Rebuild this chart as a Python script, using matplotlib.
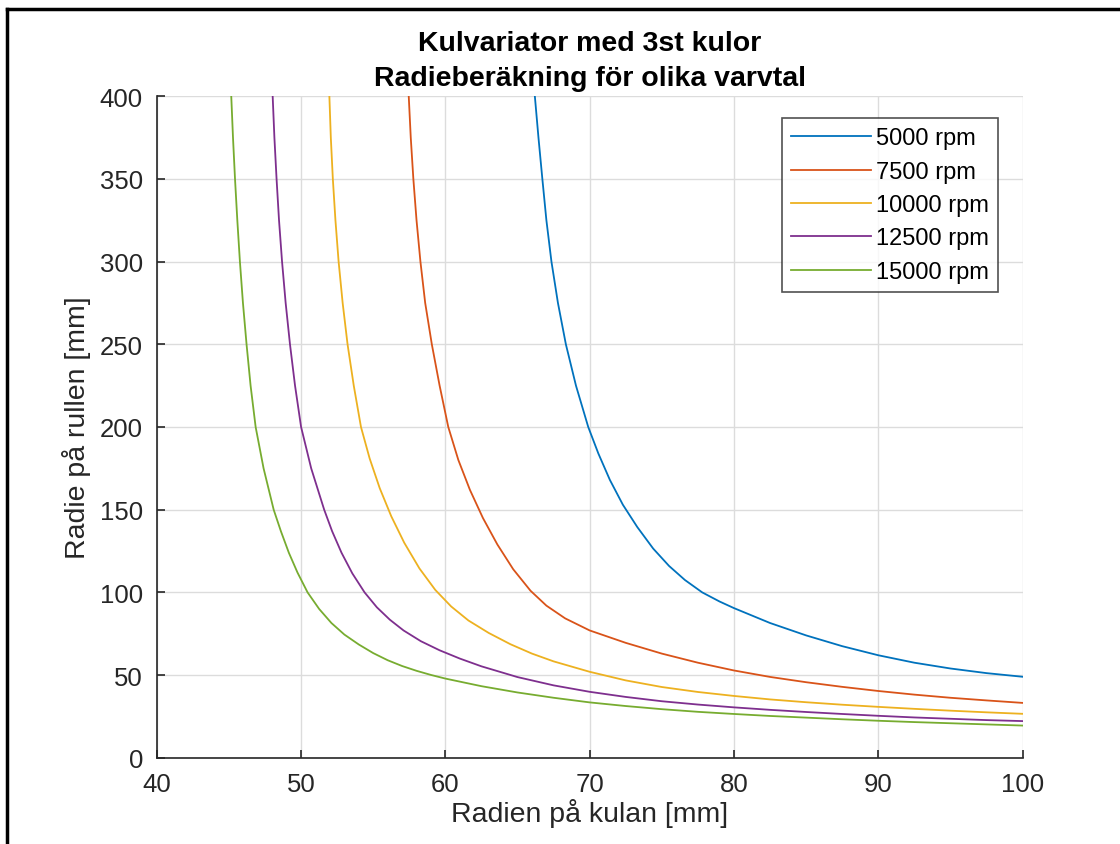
import matplotlib.pyplot as plt
from matplotlib.lines import Line2D

# values (x = ball radius, y = roller radius)
x_5000 = [66.2, 66.45, 66.72, 67.0, 67.35, 67.8, 68.35, 69.05, 69.9, 70.6, 71.4, 72.3, 73.3, 74.4,
          75.5, 76.6, 77.8, 79.0, 80, 82.5, 85, 87.5, 90, 92.5, 95, 97.5, 100]
y_5000 = [400, 375, 350, 325, 300, 275, 250, 225, 200, 184, 168, 153, 139.5, 126.5,
          116, 107.5, 100, 94.5, 90.5, 81.5, 74, 67.5, 62, 57.5, 54, 51.2, 49]

x_7500 = [57.46, 57.6, 57.78, 58.0, 58.27, 58.6, 59.06, 59.6, 60.2, 60.9, 61.7, 62.6, 63.6, 64.7,
          65.9, 67.0, 68.3, 70, 72.5, 75, 77.5, 80, 82.5, 85, 87.5, 90, 92.5, 95, 97.5, 100]
y_7500 = [400, 375, 350, 325, 300, 275, 250, 225, 200, 180, 162, 145, 129, 114,
          101, 92, 84.3, 77, 69.5, 63, 57.5, 52.8, 48.9, 45.7, 42.9, 40.4, 38.2, 36.3, 34.7, 33.2]

x_10000 = [51.96, 52.06, 52.2, 52.38, 52.6, 52.88, 53.22, 53.65, 54.15, 54.75, 55.45, 56.25, 57.15,
           58.2, 59.3, 60.4, 61.6, 63.0, 64.5, 66.0, 67.5, 70, 72.5, 75, 77.5, 80, 82.5, 85, 87.5,
           90, 92.5, 95, 97.5, 100]
y_10000 = [400, 375, 350, 325, 300, 275, 250, 225, 200, 181, 163, 146, 130,
           114.5, 101.5, 91.5, 83, 75.5, 68.7, 63, 58.3, 52, 46.8, 42.8, 39.8, 37.4, 35.3, 33.6, 32.1,
           30.8, 29.6, 28.5, 27.5, 26.6]

x_12500 = [48.03, 48.15, 48.3, 48.47, 48.68, 48.93, 49.23, 49.58, 50.0, 50.7, 51.6, 52.15, 52.8,
           53.55, 54.4, 55.25, 56.15, 57.1, 58.3, 59.6, 61, 62.5, 65, 67.5, 70, 72.5, 75, 77.5, 80,
           82.5, 85, 87.5, 90, 92.5, 95, 97.5, 100]
y_12500 = [400, 375, 350, 325, 300, 275, 250, 225, 200, 175, 150, 137, 124,
           111.5, 100, 91, 83.5, 77, 70.5, 65, 60, 55.3, 48.8, 43.8, 39.9, 36.8, 34.2, 32.2, 30.5,
           29, 27.7, 26.5, 25.4, 24.4, 23.6, 22.8, 22.2]

x_15000 = [45.16, 45.28, 45.42, 45.58, 45.76, 45.97, 46.22, 46.5, 46.85, 47.4, 48.1, 48.6, 49.15,
           49.75, 50.45, 51.25, 52.1, 53, 54, 55, 56, 57, 58, 59, 60, 62.5, 65, 67.5, 70, 72.5, 75,
           77.5, 80, 82.5, 85, 87.5, 90, 92.5, 95, 97.5, 100]
y_15000 = [400, 375, 350, 325, 300, 275, 250, 225, 200, 175, 150, 137, 124,
           112, 100, 90, 81.5, 74.5, 68.5, 63.3, 59, 55.5, 52.6, 50.1, 47.9, 43.3, 39.5, 36.3, 33.5,
           31.3, 29.4, 27.8, 26.5, 25.3, 24.3, 23.3, 22.4, 21.6, 20.9, 20.2, 19.5]

labels = ['5000 rpm', '7500 rpm', '10000 rpm', '12500 rpm', '15000 rpm']
colors = ['#0072BD', '#D95319', '#EDB120', '#7E2F8E', '#77AC30']
series = [(x_5000, y_5000), (x_7500, y_7500), (x_10000, y_10000),
          (x_12500, y_12500), (x_15000, y_15000)]

plt.rcParams['font.family'] = ['Liberation Sans', 'DejaVu Sans']

fig = plt.figure(figsize=(11.2, 8.45), dpi=100)
ax = fig.add_axes([0.140, 0.102, 0.773, 0.783])

for (xs, ys), lab, col in zip(series, labels, colors):
    ax.plot(xs, ys, color=col, linewidth=1.3, label=lab)

ax.set_xlim(40, 100)
ax.set_ylim(0, 400)
ax.set_xticks(range(40, 101, 10))
ax.set_yticks(range(0, 401, 50))
ax.grid(True, color='#dcdcdc', linewidth=1.0)
ax.set_axisbelow(True)
ax.tick_params(direction='in', length=6, width=1.2, labelsize=18.5, colors='#262626',
               top=False, right=False, pad=10)
for side in ['top', 'right']:
    ax.spines[side].set_visible(False)
for side in ['left', 'bottom']:
    ax.spines[side].set_color('#262626')
    ax.spines[side].set_linewidth(1.2)

ax.set_xlabel('Radien på kulan [mm]', fontsize=20.5, color='#262626', labelpad=2)
ax.set_ylabel('Radie på rullen [mm]', fontsize=20.5, color='#262626', labelpad=6)
ax.set_title('Kulvariator med 3st kulor\nRadieberäkning för olika varvtal',
             fontsize=20.5, fontweight='bold', linespacing=1.45, pad=8)

leg = ax.legend(loc='upper right', bbox_to_anchor=(0.972, 0.967), fontsize=17,
                frameon=True, fancybox=False, edgecolor='#262626',
                handlelength=3.4, handletextpad=0.2, labelspacing=0.48,
                borderpad=0.4, borderaxespad=0)
leg.get_frame().set_linewidth(1.2)

# black frame around the figure
fw, fh = 1120, 845
fig.add_artist(Line2D([7 / fw, 7 / fw], [0, 1 - 10 / fh], color='black', linewidth=2.5))
fig.add_artist(Line2D([7 / fw, 1], [1 - 10 / fh, 1 - 10 / fh], color='black', linewidth=2.5))

fig.savefig('out.png', dpi=100)
